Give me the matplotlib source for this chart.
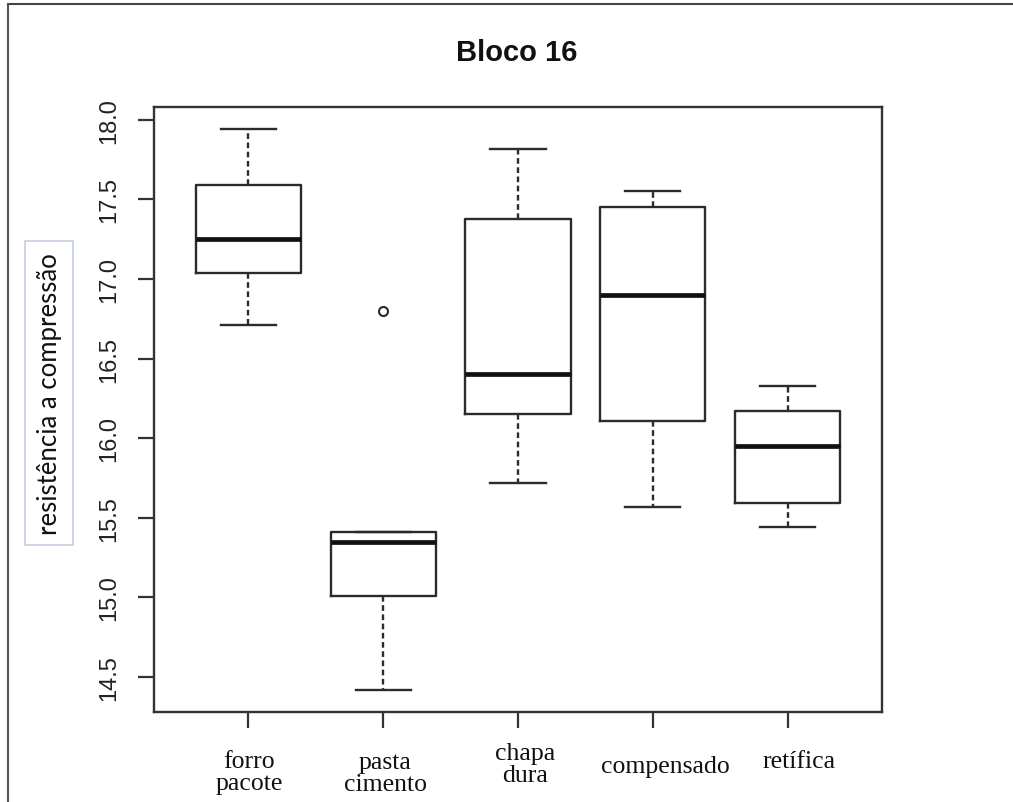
import matplotlib
matplotlib.use("Agg")
import matplotlib.pyplot as plt
import matplotlib.transforms as mtransforms

# ---- data ----
categories = ["forro\npacote", "pasta\ncimento", "chapa\ndura", "compensado", "retífica"]
whisker_low = [16.71, 14.42, 15.72, 15.57, 15.44]
q1 = [17.04, 15.01, 16.15, 16.11, 15.59]
median = [17.25, 15.35, 16.40, 16.90, 15.95]
q3 = [17.59, 15.41, 17.38, 17.45, 16.17]
whisker_high = [17.94, 15.41, 17.82, 17.55, 16.33]
outliers = [[], [16.80], [], [], []]
yticks = [14.5, 15.0, 15.5, 16.0, 16.5, 17.0, 17.5, 18.0]
title = "Bloco 16"
ylabel = "resistência a compressão"

W, H = 1013, 803
fig = plt.figure(figsize=(W / 100, H / 100), dpi=100)
fig.patch.set_facecolor("white")

ax = fig.add_axes([154 / W, 1 - 713 / H, (882 - 154) / W, (713 - 108) / H])

stats = []
for i in range(len(categories)):
    stats.append(dict(whislo=whisker_low[i], q1=q1[i], med=median[i], q3=q3[i],
                      whishi=whisker_high[i], fliers=outliers[i], label=""))

positions = list(range(1, len(categories) + 1))
ax.bxp(stats, positions=positions, widths=0.78, showfliers=True,
       boxprops=dict(color="#2b2b2b", linewidth=1.7),
       medianprops=dict(color="#111111", linewidth=3.4),
       whiskerprops=dict(color="#2b2b2b", linewidth=1.7, linestyle=(0, (2.4, 1.5))),
       capprops=dict(color="#2b2b2b", linewidth=1.7),
       capwidths=0.41,
       flierprops=dict(marker="o", markersize=6.5, markerfacecolor="none",
                       markeredgecolor="#2b2b2b", markeredgewidth=1.5))

n = len(categories)
ax.set_xlim(0.5 - 0.04 * n, n + 0.5 + 0.04 * n)
lo, hi = min(whisker_low), max(max(whisker_high), max(max(o) if o else 0 for o in outliers))
pad = 0.04 * (hi - lo)
ax.set_ylim(lo - pad, hi + pad)

for s in ax.spines.values():
    s.set_linewidth(1.7)
    s.set_color("#333333")

ax.set_yticks(yticks)
ax.set_yticklabels([f"{v:.1f}" for v in yticks], rotation=90, va="center",
                   fontfamily="Liberation Sans", fontsize=17, color="#222222")
ax.tick_params(axis="y", length=11.5, width=1.6, color="#333333", pad=13)
ax.set_xticks(positions)
ax.set_xticklabels([""] * n)
ax.tick_params(axis="x", length=11.5, width=1.6, color="#333333")
ax.tick_params(top=False, right=False)

# category labels (serif, as in the reference)
x_nudge_px = [1, 2, 7, 13, 11]
y_center_px = [773, 774, 765, 767, 762]
for i, lab in enumerate(categories):
    tr = mtransforms.blended_transform_factory(ax.transData, fig.transFigure)
    tr = tr + mtransforms.ScaledTranslation(x_nudge_px[i] / 100, 0, fig.dpi_scale_trans)
    ax.text(positions[i], 1 - y_center_px[i] / H, lab, transform=tr,
            ha="center", va="center", fontfamily="Liberation Serif", fontsize=18.5,
            linespacing=1.02, color="#111111", clip_on=False)

# title
fig.text(517 / W, 1 - 53 / H, title, ha="center", va="center",
         fontfamily="Liberation Sans", fontweight="bold", fontsize=21, color="#111111")

# y label in a thin box
fig.text(49 / W, 1 - 394 / H, ylabel, rotation=90, ha="center", va="center",
         fontfamily="Lato", fontsize=18.5, color="#111111",
         bbox=dict(boxstyle="square,pad=0.45", facecolor="white",
                   edgecolor="#c5cde0", linewidth=1.2))

# outer frame lines (top and left) of the reference picture
fig.add_artist(plt.Line2D([8 / W, 1], [1 - 5 / H, 1 - 5 / H], transform=fig.transFigure,
                          color="#444444", linewidth=1.5))
fig.add_artist(plt.Line2D([8 / W, 8 / W], [0, 1 - 5 / H], transform=fig.transFigure,
                          color="#555555", linewidth=1.5))

fig.savefig("out.png", dpi=100)
